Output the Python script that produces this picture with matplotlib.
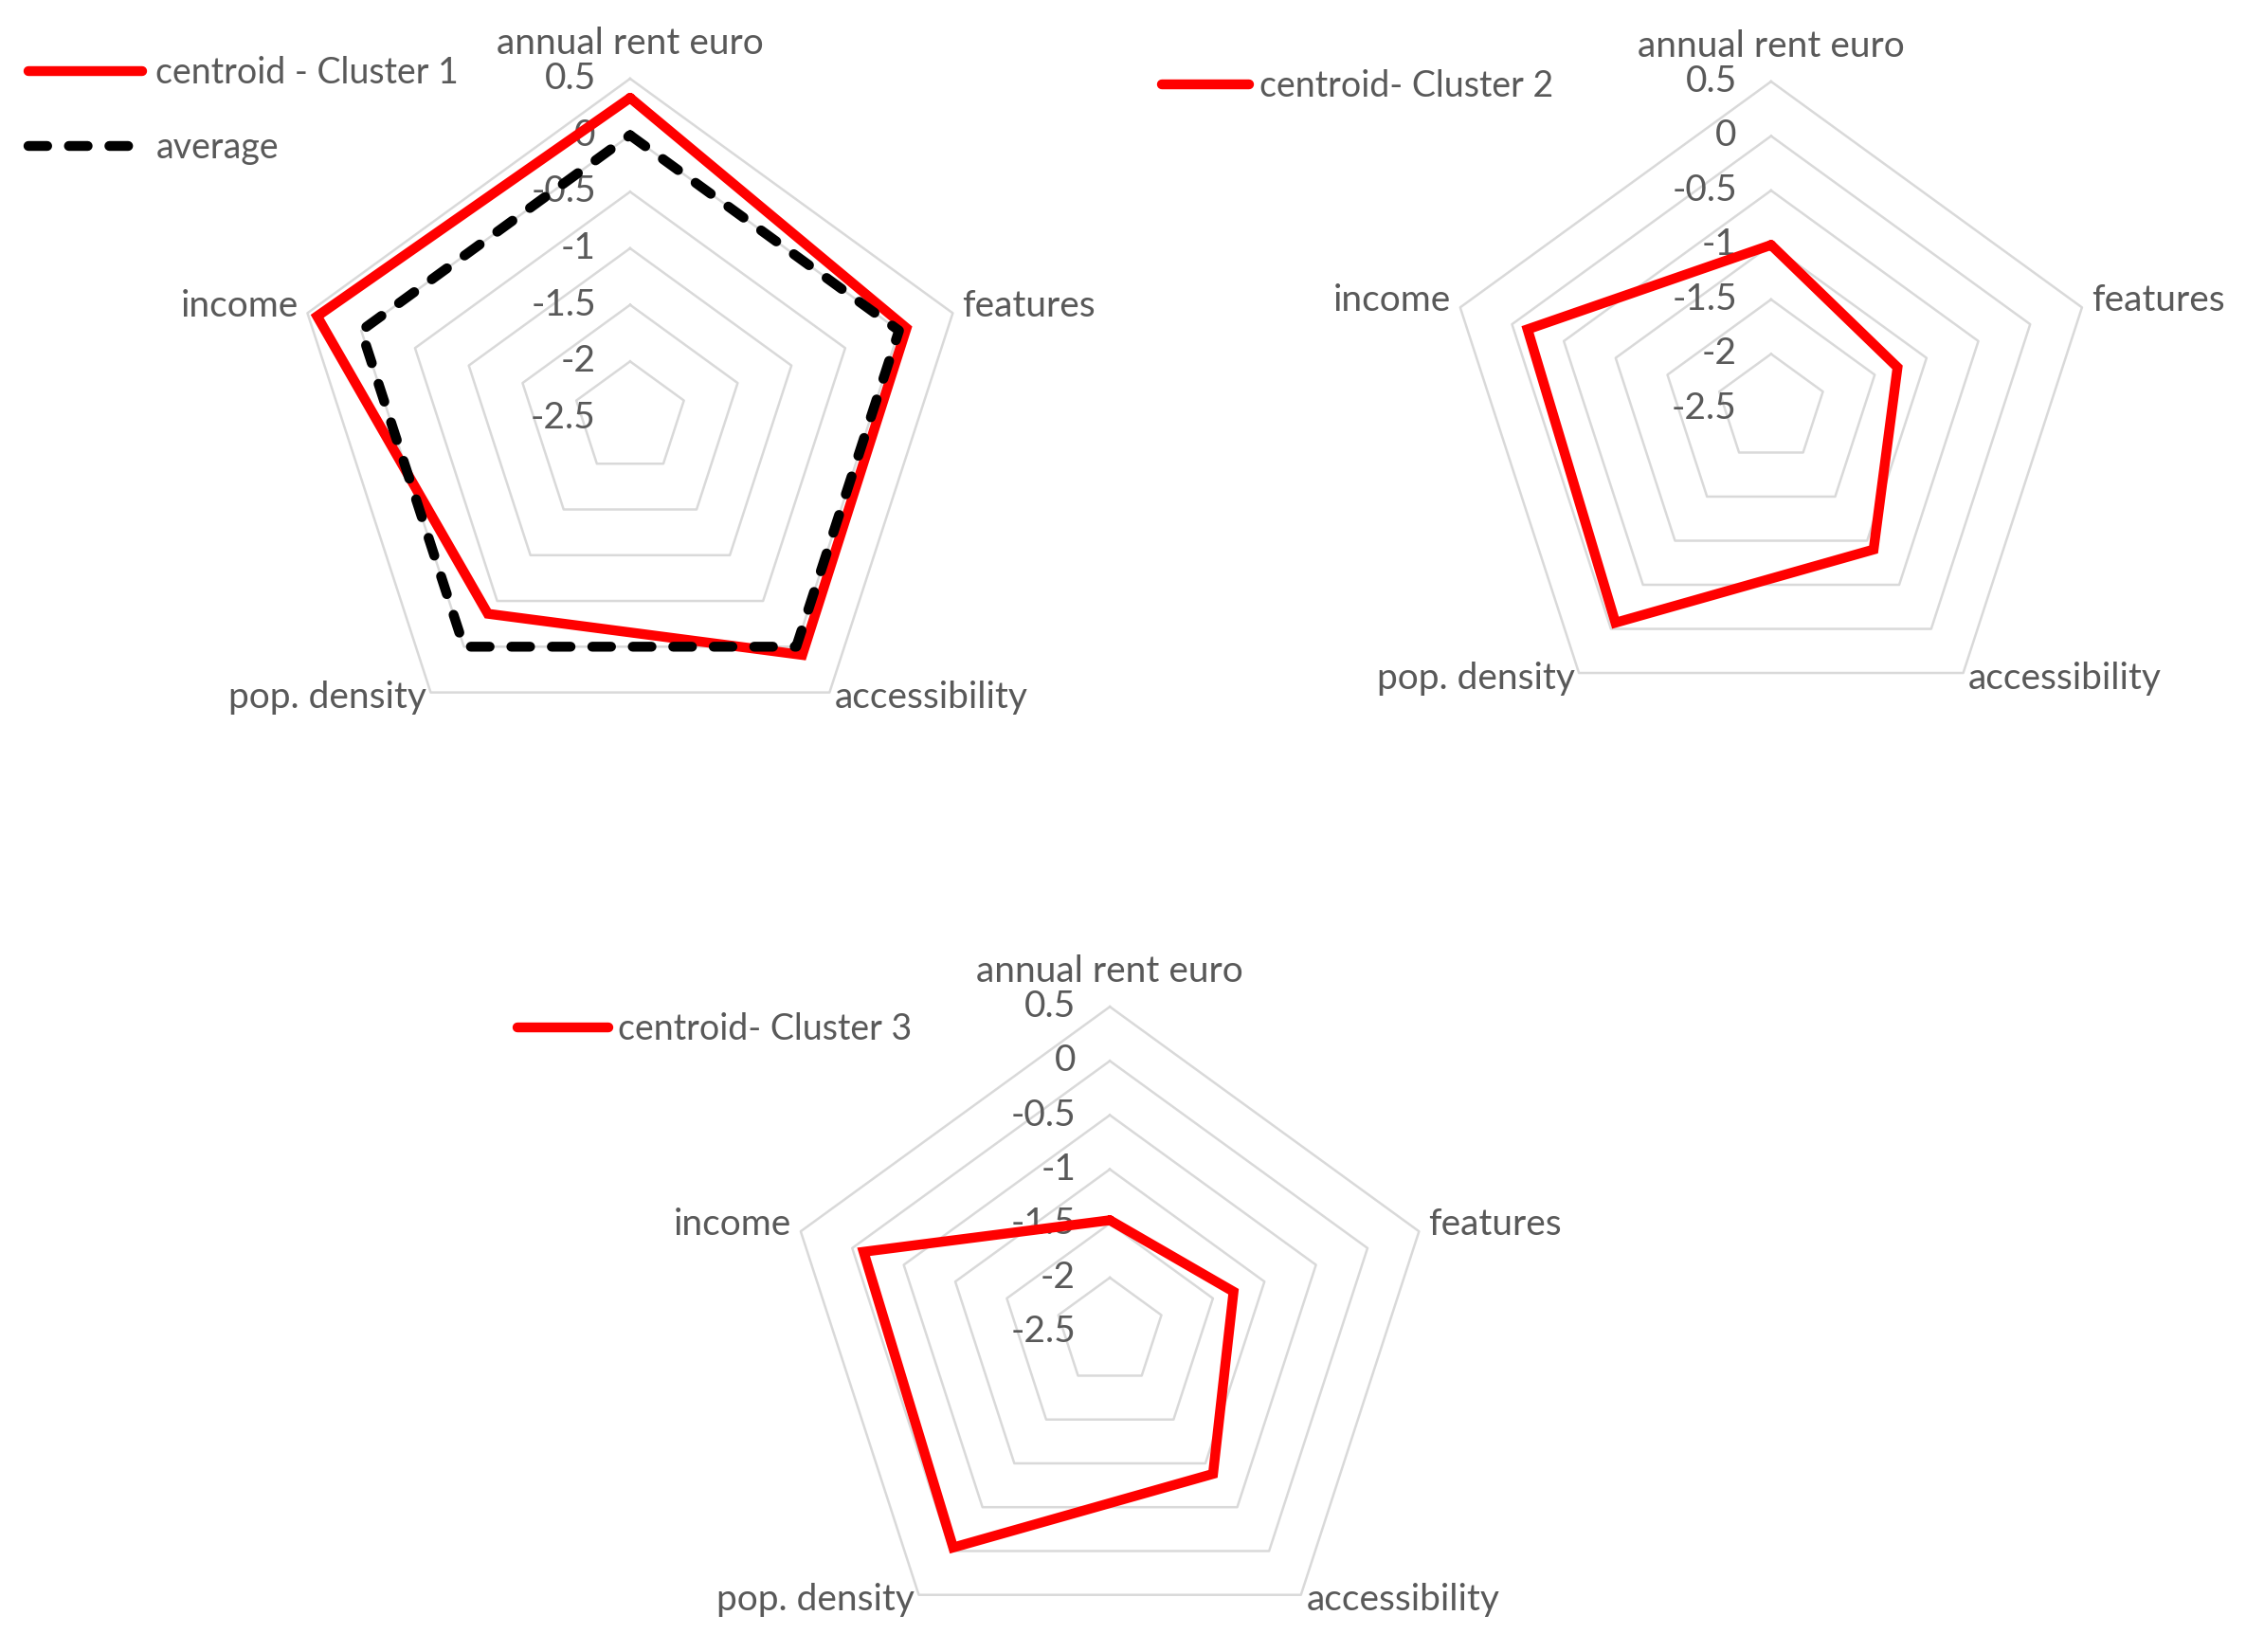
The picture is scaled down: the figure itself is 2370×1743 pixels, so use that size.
import numpy as np
import matplotlib
matplotlib.use('Agg')
from matplotlib import pyplot as plt

plt.rcParams['font.family'] = ['Lato', 'DejaVu Sans']

# data
categories = ['annual rent euro', 'features', 'accessibility', 'pop. density', 'income']
cluster1 = [0.33, 0.07, 0.09, -0.36, 0.41]
average = [0, 0, 0, 0, 0]
cluster2 = [-1.0, -1.28, -0.9, -0.07, -0.15]
cluster3 = [-1.47, -1.3, -0.88, -0.04, -0.11]
ring_levels = [-2, -1.5, -1, -0.5, 0, 0.5]
tick_values = [0.5, 0, -0.5, -1, -1.5, -2, -2.5]
r_min, r_max = -2.5, 0.5

TEXT = '#595959'
GRID = '#d9d9d9'
FS = 28
LEG_FS = 27

# per-category label placement: (ha, va, dx, dy) in points
label_pos = [('center', 'bottom', 0, 14),
             ('left', 'center', 7, 5),
             ('left', 'center', 4, -4),
             ('right', 'center', -3, -4),
             ('right', 'center', -7, 5)]

angles = np.linspace(0, 2 * np.pi, len(categories), endpoint=False)
closed = np.append(angles, angles[0])


def radar(ax, series):
    ax.set_theta_zero_location('N')
    ax.set_theta_direction(-1)
    ax.set_ylim(r_min, r_max)
    ax.grid(False)
    ax.set_xticks([])
    ax.set_yticks([])
    ax.spines['polar'].set_visible(False)
    ax.patch.set_alpha(0)

    for lvl in ring_levels:
        ax.plot(closed, [lvl] * len(closed), color=GRID, lw=1.8, zorder=1, clip_on=False)

    for v in tick_values:
        ax.annotate('{:g}'.format(v), xy=(0, v), xytext=(-26, 0), textcoords='offset points',
                    ha='right', va='center', fontsize=FS, color=TEXT, zorder=2)

    for a, name, (ha, va, dx, dy) in zip(angles, categories, label_pos):
        ax.annotate(name, xy=(a, r_max), xytext=(dx, dy), textcoords='offset points',
                    ha=ha, va=va, fontsize=FS, color=TEXT, annotation_clip=False)

    handles = []
    for vals, label, style in series:
        h, = ax.plot(closed, list(vals) + [vals[0]], label=label, clip_on=False, **style)
        handles.append(h)
    return handles


red = dict(color='#ff0000', lw=7.5, zorder=3, solid_joinstyle='miter', solid_capstyle='round')
dash = dict(color='black', lw=7.5, zorder=4, linestyle=(0, (1.9, 2.2)), dash_capstyle='round')

fig = plt.figure(figsize=(23.7, 17.43), dpi=100)

leg_kw = dict(loc='upper left', bbox_transform=fig.transFigure, frameon=False, fontsize=LEG_FS,
              labelcolor=TEXT, borderpad=0, borderaxespad=0)

ax1 = fig.add_axes([0.1295, 0.5416, 0.3021, 0.4108], projection='polar')
h1 = radar(ax1, [(cluster1, 'centroid - Cluster 1', red), (average, 'average', dash)])
ax1.legend(handles=h1, bbox_to_anchor=(0.0127, 0.966), handlelength=3.2,
           handletextpad=0.38, labelspacing=1.15, **leg_kw)

ax2 = fig.add_axes([0.643, 0.5548, 0.2911, 0.3959], projection='polar')
h2 = radar(ax2, [(cluster2, 'centroid- Cluster 2', red)])
ax2.legend(handles=h2, bbox_to_anchor=(0.5175, 0.958), handlelength=2.45,
           handletextpad=0.28, **leg_kw)

ax3 = fig.add_axes([0.3494, -0.003, 0.2895, 0.3936], projection='polar')
h3 = radar(ax3, [(cluster3, 'centroid- Cluster 3', red)])
ax3.legend(handles=h3, bbox_to_anchor=(0.2305, 0.387), handlelength=2.55,
           handletextpad=0.28, **leg_kw)

fig.savefig('out.png', dpi=100)
